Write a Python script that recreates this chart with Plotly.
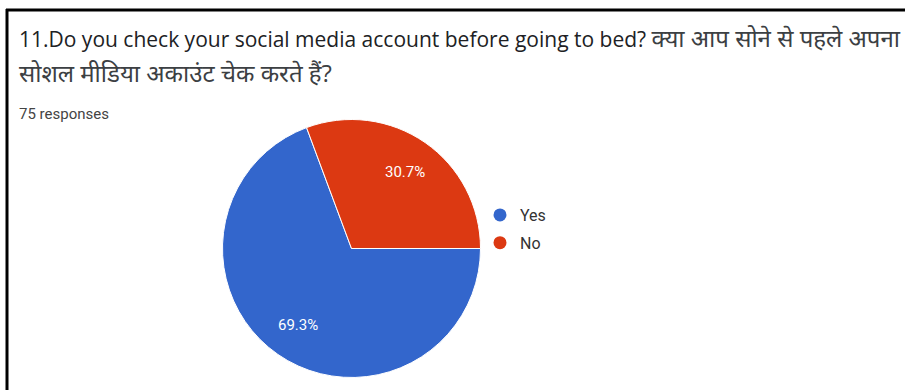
import math
import plotly.graph_objects as go

W, H = 905, 390

labels = ["Yes", "No"]
counts = [52, 23]
colors = ["#3366CC", "#DC3912"]

title_en = "11.Do you check your social media account before going to bed?"
title_hi1 = "क्या आप सोने से पहले अपना"
title_hi2 = "सोशल मीडिया अकाउंट चेक करते हैं?"
responses = "75 responses"

def px_x(v):
    return v / W

def px_y(v):
    return 1 - v / H

# pie geometry (pixels)
cx, cy, r = 351.5, 248.5, 129
start_deg = 90  # first slice starts at 3 o'clock, clockwise

fig = go.Figure()
fig.add_trace(go.Pie(
    labels=labels,
    values=counts,
    sort=False,
    direction="clockwise",
    rotation=start_deg,
    marker=dict(colors=colors, line=dict(color="white", width=1)),
    textinfo="none",
    showlegend=False,
    domain=dict(x=[px_x(cx - r), px_x(cx + r)], y=[px_y(cy + r), px_y(cy - r)]),
    hoverinfo="label+percent",
))

for lab, col in zip(labels, colors):
    fig.add_trace(go.Scatter(
        x=[None], y=[None], mode="markers", name=lab, legendgroup=lab,
        marker=dict(symbol="circle", size=13, color=col),
        showlegend=True,
    ))

# percentage labels placed along each slice's mid-angle
total = sum(counts)
annotations = []
acc = 0
for v in counts:
    mid = start_deg + 360 * (acc + v / 2) / total
    acc += v
    d = 0.72 * r
    tx = cx + d * math.sin(math.radians(mid))
    ty = cy - d * math.cos(math.radians(mid))
    annotations.append(dict(
        text=f"{100 * v / total:.1f}%", x=px_x(tx), y=px_y(ty), xref="paper", yref="paper",
        xanchor="center", yanchor="middle", showarrow=False,
        font=dict(size=15, color="white", family="Roboto, Arial, sans-serif")))

title1 = (f"{title_en} "
          f"<span style='font-size:24px;color:#3c4043'>{title_hi1}</span>")
annotations += [
    dict(text=title1, x=px_x(17), y=px_y(38), xref="paper", yref="paper",
         xanchor="left", yanchor="middle", showarrow=False,
         font=dict(size=21, color="#202124", family="Open Sans, Noto Sans, sans-serif")),
    dict(text=title_hi2, x=px_x(17), y=px_y(72), xref="paper", yref="paper",
         xanchor="left", yanchor="middle", showarrow=False,
         font=dict(size=24, color="#3c4043", family="Open Sans, Noto Sans, sans-serif")),
    dict(text=responses, x=px_x(17), y=px_y(114), xref="paper", yref="paper",
         xanchor="left", yanchor="middle", showarrow=False,
         font=dict(size=15, color="#444444", family="Roboto, Arial, sans-serif")),
]

fig.update_layout(
    width=W, height=H,
    margin=dict(l=0, r=0, t=0, b=0),
    paper_bgcolor="white",
    plot_bgcolor="white",
    xaxis=dict(visible=False),
    yaxis=dict(visible=False),
    legend=dict(
        x=px_x(480), y=px_y(198), xanchor="left", yanchor="top",
        font=dict(size=16, color="#333333", family="Roboto, Arial, sans-serif"),
        traceorder="grouped", tracegroupgap=4,
        bgcolor="rgba(0,0,0,0)",
    ),
    annotations=annotations,
    shapes=[
        dict(type="line", xref="paper", yref="paper", x0=px_x(7), x1=px_x(7), y0=px_y(9), y1=0,
             line=dict(color="black", width=3)),
        dict(type="line", xref="paper", yref="paper", x0=px_x(6), x1=1, y0=px_y(10), y1=px_y(10),
             line=dict(color="black", width=3)),
    ],
)

fig.write_html("out.html")
